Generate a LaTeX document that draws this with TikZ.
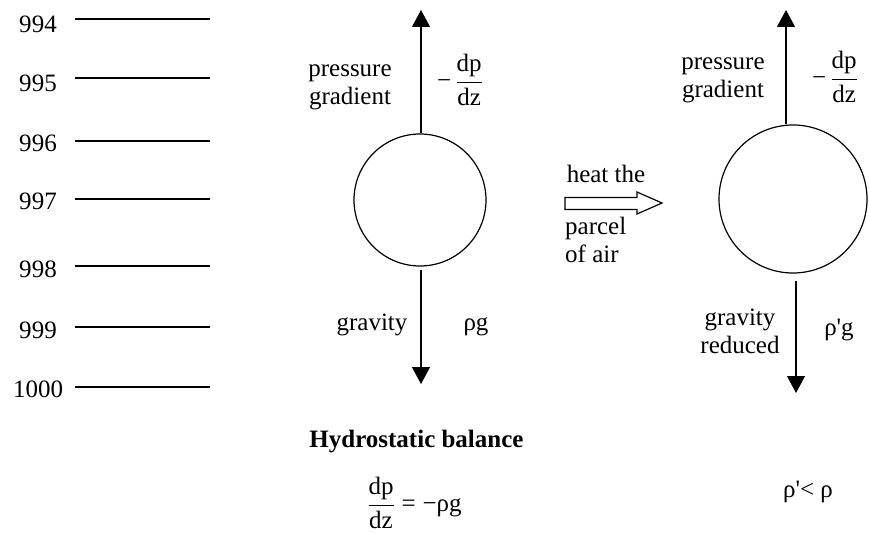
\documentclass[tikz,border=0pt]{standalone}
\usepackage{amsmath}
\usepackage{fontspec}
\setmainfont{Liberation Serif}
\usetikzlibrary{arrows.meta,positioning,calc}

\begin{document}
\begin{tikzpicture}[x=1pt, y=-1pt, >={Triangle[length=17pt,width=18pt]},
    lbl/.style={font=\fontsize{25}{28}\selectfont, inner sep=0pt, align=center},
    force/.style={->, line width=1.2pt},
    parcel/.style={circle, draw, line width=1.2pt, inner sep=0pt}]
  \useasboundingbox (0,0) rectangle (869,534);
  % isobars
  \foreach \p/\ly/\by in {994/19/33, 995/78/92, 996/141/152, 997/199/210,
      998/266/278, 999/327/338, 1000/387/397}{
    \draw[line width=1.2pt] (75,\ly) -- (210,\ly);
    \node[lbl, anchor=base] (p\p) at (38,\by) {\p};
  }
  % parcel in balance
  \node[parcel, minimum size=132pt] (lparcel) at (420,200) {};
  \coordinate (ltop) at (421,10);
  \coordinate (lbot) at (421,384);
  \draw[force] (lparcel.north -| ltop) -- (ltop);
  \draw[force, shorten <=3pt] (lparcel.south -| lbot) -- (lbot);
  \node[lbl, anchor=base] (lpress) at (350,105) {pressure\\gradient};
  \node[lbl] (ldpdz) at (460,80) {−\,$\dfrac{\text{dp}}{\text{dz}}$};
  \node[lbl, anchor=base] (lgrav) at (372,330) {gravity};
  \node[lbl, anchor=base] (lrhog) at (476,330) {ρg};
  \node[lbl, font=\fontsize{25}{28}\selectfont\bfseries, anchor=base] (balance) at (416.5,447) {Hydrostatic balance};
  \node[lbl] (hydeq) at (414.5,503) {$\dfrac{\text{dp}}{\text{dz}}\mathrel{\text{=}}\text{−ρg}$};
  % heating
  \draw[line width=1.2pt] (565,197.5) -- (637,197.5) -- (637,192) -- (662,203)
    -- (637,214) -- (637,209.5) -- (565,209.5) -- cycle;
  \node[lbl, anchor=base] (heat) at (606,183) {heat the};
  \node[lbl, anchor=base west, align=left] (air) at (565,263) {parcel\\of air};
  % heated parcel
  \node[parcel, minimum size=148pt] (rparcel) at (793,199) {};
  \coordinate (rtop) at (786,10);
  \coordinate (rbot) at (796,393);
  \draw[force] (rparcel.north -| rtop) -- (rtop);
  \draw[force, shorten <=7pt] (rparcel.south -| rbot) -- (rbot);
  \node[lbl, anchor=base] (rpress) at (723,98) {pressure\\gradient};
  \node[lbl] (rdpdz) at (835,77) {−\,$\dfrac{\text{dp}}{\text{dz}}$};
  \node[lbl, anchor=base] (rgrav) at (740,353) {gravity\\reduced};
  \node[lbl, anchor=base] (rrhog) at (839,335) {ρ\textquotesingle g};
  \node[lbl, anchor=base] (rless) at (808,497) {ρ\textquotesingle< ρ};
\end{tikzpicture}
\end{document}
